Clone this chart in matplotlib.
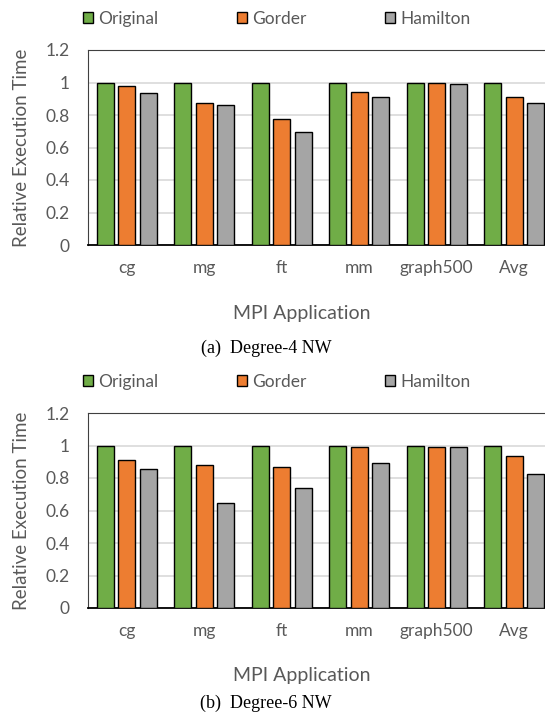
import numpy as np
import matplotlib.pyplot as plt

# chart data
apps = ["cg", "mg", "ft", "mm", "graph500", "Avg"]
series = ["Original", "Gorder", "Hamilton"]
deg4_original = [1.0, 1.0, 1.0, 1.0, 1.0, 1.0]
deg4_gorder = [0.98, 0.873, 0.773, 0.941, 1.0, 0.91]
deg4_hamilton = [0.933, 0.861, 0.696, 0.91, 0.99, 0.873]
deg6_original = [1.0, 1.0, 1.0, 1.0, 1.0, 1.0]
deg6_gorder = [0.912, 0.883, 0.865, 0.99, 0.99, 0.933]
deg6_hamilton = [0.853, 0.646, 0.736, 0.894, 0.99, 0.824]
captions = ["(a)  Degree-4 NW", "(b)  Degree-6 NW"]

colors = ["#70AD47", "#ED7D31", "#A5A5A5"]
text_col = "#595959"
plt.rcParams["font.family"] = ["Lato", "DejaVu Sans"]

W, H = 545, 717
fig = plt.figure(figsize=(W / 100, H / 100), dpi=100)


def px(x, y):
    return x / W, 1 - y / H


def draw_panel(top, vals, caption, cap_gap):
    bottom = top + 195
    l, b = px(88, bottom)
    _, t = px(0, top)
    ax = fig.add_axes([l, b, (553 - 88) / W, t - b])
    x = np.arange(len(apps))
    offsets = [-0.28, 0, 0.28]
    bars = []
    for i, v in enumerate(vals):
        bars.append(ax.bar(x + offsets[i], v, width=0.22, color=colors[i],
                           edgecolor="black", linewidth=1.0, zorder=3,
                           label=series[i]))
    ax.set_xlim(-0.5, len(apps) - 0.5)
    ax.set_ylim(0, 1.2)
    ax.set_yticks(np.arange(0, 1.21, 0.2))
    ax.set_yticklabels(["0", "0.2", "0.4", "0.6", "0.8", "1", "1.2"])
    ax.set_xticks(x)
    ax.set_xticklabels(apps)
    ax.tick_params(axis="both", length=0, labelsize=12.5, colors=text_col)
    ax.tick_params(axis="y", pad=13)
    ax.tick_params(axis="x", pad=11)
    ax.grid(axis="y", color="#d9d9d9", linewidth=1.2, zorder=0)
    for s in ["left", "top", "right"]:
        ax.spines[s].set_color("#404040")
    ax.spines["bottom"].set_color("black")
    ax.spines["bottom"].set_linewidth(1.3)

    fig.text(*px(22, top + 98), "Relative Execution Time", rotation=90,
             ha="center", va="center", fontsize=13.5, color=text_col)
    fig.text(*px(302, bottom + 68), "MPI Application", ha="center",
             va="center", fontsize=14, color=text_col)
    fig.text(*px(266, bottom + cap_gap), caption, ha="center", va="center",
             fontsize=13, family="Liberation Serif", color="black")

    lx, ly = px(74, top - 31)
    fig.legend(handles=bars, labels=series, loc="center left",
               bbox_to_anchor=(lx, ly), ncol=3, frameon=False,
               fontsize=12.5, labelcolor=text_col, handlelength=0.6,
               handleheight=0.6, handletextpad=0.3, columnspacing=4.5,
               borderpad=0)
    return ax


draw_panel(50, [deg4_original, deg4_gorder, deg4_hamilton], captions[0], 103)
draw_panel(413, [deg6_original, deg6_gorder, deg6_hamilton], captions[1], 95)

fig.savefig("out.png", dpi=100)
